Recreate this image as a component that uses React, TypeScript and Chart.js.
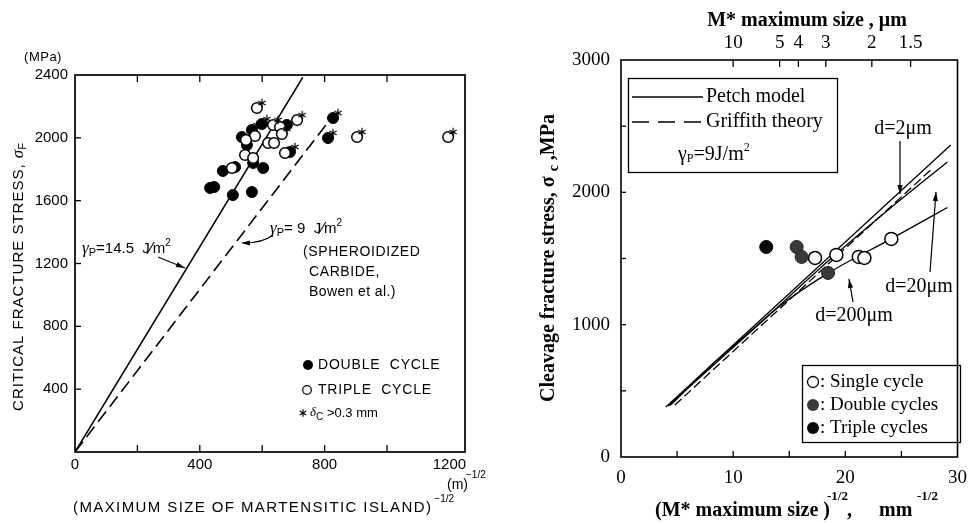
import React, { useEffect, useRef } from 'react';
import { Chart, registerables } from 'chart.js';

Chart.register(...registerables);

// ================= LEFT PANEL DATA =================
const leftXTickLabels = [0, 400, 800, 1200];
const leftXTickMarks = [200, 400, 600, 800, 1000];
const leftYTickLabels = [400, 800, 1200, 1600, 2000, 2400];
const leftYTickMarks = [400, 800, 1200, 1600, 2000];

const doubleCycle: [number, number][] = [
  [433, 1681], [446, 1687], [474, 1789], [513, 1814], [506, 1636], [567, 1655],
  [535, 2005], [551, 1954], [567, 2050], [599, 2088], [571, 1840], [603, 1808],
  [679, 2082], [689, 1910], [811, 1999], [827, 2126],
];
const tripleCycle: [number, number][] = [
  [583, 2190], [577, 2012], [548, 1986], [635, 2082], [657, 2069], [663, 2024],
  [619, 1967], [638, 1967], [712, 2113], [673, 1903], [545, 1891], [571, 1872],
  [503, 1808], [904, 2005], [1196, 2005],
];
const deltaCOver03: [number, number][] = [
  [583, 2190], [567, 2050], [599, 2088], [635, 2082], [663, 2024], [712, 2113],
  [689, 1910], [827, 2126], [811, 1999], [904, 2005], [1196, 2005],
];
const petchLeft: [number, number][] = [[0, 0], [730, 2385]];
const bowenLeft: [number, number][] = [[0, 0], [815, 2110]];

// ================= RIGHT PANEL DATA =================
const rightXTickLabels = [0, 10, 20, 30];
const rightXTickMarks = [5, 10, 15, 20, 25];
const rightYTickLabels = [0, 1000, 2000, 3000];
const rightYTickMarks = [500, 1000, 1500, 2000, 2500];
const topSizesUm = [10, 5, 4, 3, 2, 1.5];

const singleCycle: [number, number][] = [
  [17.3, 1504], [19.2, 1527], [21.2, 1512], [21.7, 1504], [24.1, 1648],
];
const doubleCycles: [number, number][] = [[15.66, 1587], [16.1, 1512], [18.46, 1391]];
const tripleCycles: [number, number][] = [[12.95, 1587]];
const petchD2: [number, number][] = [[4.0, 378], [29.4, 2358]];
const petchD20: [number, number][] = [[4.2, 385], [12, 980], [19, 1520], [24, 1880], [29.1, 2230]];
const petchD200: [number, number][] = [
  [4.4, 390], [8, 690], [11, 910], [14, 1130], [18.5, 1391], [24, 1645], [29.1, 1885],
];
const griffith: [number, number][] = [[4.8, 393], [27.8, 2184]];

// ================= HELPERS =================
const SANS = '"Liberation Sans", Arial, sans-serif';
const SERIF = '"Liberation Serif", "Times New Roman", serif';

const pts = (a: [number, number][]) => a.map(([x, y]) => ({ x, y }));

type Seg = { t: string; font: string; dx?: number; dy?: number; ls?: number };

function drawSegs(
  ctx: CanvasRenderingContext2D,
  x: number,
  y: number,
  segs: Seg[],
  align: 'left' | 'center' | 'right' = 'left'
) {
  ctx.save();
  ctx.textAlign = 'left';
  ctx.textBaseline = 'middle';
  ctx.fillStyle = '#000';
  const widths = segs.map((s) => {
    ctx.font = s.font;
    (ctx as any).letterSpacing = (s.ls ?? 0) + 'px';
    return ctx.measureText(s.t).width + (s.dx ?? 0);
  });
  const total = widths.reduce((a, b) => a + b, 0);
  let cx = align === 'left' ? x : align === 'center' ? x - total / 2 : x - total;
  segs.forEach((s, i) => {
    ctx.font = s.font;
    (ctx as any).letterSpacing = (s.ls ?? 0) + 'px';
    ctx.fillText(s.t, cx + (s.dx ?? 0), y + (s.dy ?? 0));
    cx += widths[i];
  });
  ctx.restore();
}

function seg(ctx: CanvasRenderingContext2D, x1: number, y1: number, x2: number, y2: number) {
  ctx.beginPath();
  ctx.moveTo(x1, y1);
  ctx.lineTo(x2, y2);
  ctx.stroke();
}

function arrowHead(ctx: CanvasRenderingContext2D, fx: number, fy: number, tx: number, ty: number, len = 9, hw = 2.6) {
  const ang = Math.atan2(ty - fy, tx - fx);
  const c = Math.cos(ang), s = Math.sin(ang);
  ctx.beginPath();
  ctx.moveTo(tx, ty);
  ctx.lineTo(tx - len * c + hw * s, ty - len * s - hw * c);
  ctx.lineTo(tx - len * c - hw * s, ty - len * s + hw * c);
  ctx.closePath();
  ctx.fill();
}

function arrow(ctx: CanvasRenderingContext2D, x1: number, y1: number, x2: number, y2: number) {
  seg(ctx, x1, y1, x2, y2);
  arrowHead(ctx, x1, y1, x2, y2);
}

function asterisk(ctx: CanvasRenderingContext2D, cx: number, cy: number, r: number) {
  for (let i = 0; i < 3; i++) {
    const a = Math.PI / 2 + (i * Math.PI) / 3;
    seg(ctx, cx - r * Math.cos(a), cy - r * Math.sin(a), cx + r * Math.cos(a), cy + r * Math.sin(a));
  }
}

function makeStarImage(): HTMLCanvasElement {
  const c = document.createElement('canvas');
  c.width = 30;
  c.height = 30;
  const g = c.getContext('2d')!;
  g.strokeStyle = '#000';
  g.lineWidth = 1.2;
  asterisk(g, 20, 10, 4.2);
  return c;
}

// ================= LEFT DECOR PLUGIN =================
const leftDecor = {
  id: 'leftDecor',
  afterDraw(chart: any) {
    const { ctx, chartArea: a, scales } = chart;
    const xs = scales.x, ys = scales.y;
    ctx.save();
    ctx.strokeStyle = '#000';
    ctx.fillStyle = '#000';
    ctx.lineWidth = 1.7;
    ctx.strokeRect(a.left, a.top, a.right - a.left, a.bottom - a.top);
    ctx.lineWidth = 1.3;
    leftXTickMarks.forEach((v) => {
      const px = xs.getPixelForValue(v);
      seg(ctx, px, a.bottom, px, a.bottom - 7);
      seg(ctx, px, a.top, px, a.top + 7);
    });
    leftYTickMarks.forEach((v) => {
      const py = ys.getPixelForValue(v);
      seg(ctx, a.left, py, a.left + 6, py);
    });

    // (MPa)
    drawSegs(ctx, 43, 57, [{ t: '(MPa)', font: `13px ${SANS}`, ls: 0.5 }], 'center');

    // Y title (rotated)
    ctx.save();
    ctx.translate(19, 277);
    ctx.rotate(-Math.PI / 2);
    drawSegs(ctx, 0, 0, [
      { t: 'CRITICAL FRACTURE STRESS, ', font: `15px ${SANS}`, ls: 1 },
      { t: 'σ', font: `italic 17px ${SERIF}` },
      { t: 'F', font: `11px ${SANS}`, dy: 4 },
    ], 'center');
    ctx.restore();

    // X title
    drawSegs(ctx, 73, 508, [
      { t: '(MAXIMUM SIZE OF MARTENSITIC ISLAND)', font: `15px ${SANS}`, ls: 1.4 },
      { t: '−1/2', font: `10px ${SANS}`, dy: -9, dx: 2 },
    ]);
    drawSegs(ctx, 447, 485, [{ t: '(m)', font: `14px ${SANS}` }]);
    drawSegs(ctx, 466, 475, [{ t: '−1/2', font: `10px ${SANS}` }]);

    // γP = 14.5 annotation
    drawSegs(ctx, 82, 249, [
      { t: 'γ', font: `italic 17px ${SERIF}` },
      { t: 'P', font: `11px ${SANS}`, dy: 4 },
      { t: '=14.5  J', font: `15px ${SANS}` },
      { t: '⁄', font: `17px ${SANS}` },
      { t: 'm', font: `15px ${SANS}` },
      { t: '2', font: `10px ${SANS}`, dy: -6 },
    ]);
    ctx.lineWidth = 1.1;
    arrow(ctx, 158, 257, 185, 268);

    // γP = 9 annotation
    drawSegs(ctx, 270, 229, [
      { t: 'γ', font: `italic 17px ${SERIF}` },
      { t: 'P', font: `11px ${SANS}`, dy: 4 },
      { t: '= 9  J', font: `15px ${SANS}` },
      { t: '⁄', font: `17px ${SANS}` },
      { t: 'm', font: `15px ${SANS}` },
      { t: '2', font: `10px ${SANS}`, dy: -6 },
    ]);
    ctx.beginPath();
    ctx.moveTo(273, 235);
    ctx.quadraticCurveTo(263, 243, 243, 243);
    ctx.stroke();
    arrowHead(ctx, 256, 243, 241, 243);

    drawSegs(ctx, 303, 252, [{ t: '(SPHEROIDIZED', font: `14px ${SANS}`, ls: 0.6 }]);
    drawSegs(ctx, 309, 272, [{ t: 'CARBIDE,', font: `14px ${SANS}`, ls: 0.6 }]);
    drawSegs(ctx, 309, 292, [{ t: 'Bowen et al.)', font: `14px ${SANS}`, ls: 0.4 }]);

    // Legend
    ctx.beginPath();
    ctx.arc(308, 365, 5, 0, Math.PI * 2);
    ctx.fill();
    drawSegs(ctx, 318, 365, [{ t: 'DOUBLE  CYCLE', font: `14px ${SANS}`, ls: 0.8 }]);
    ctx.lineWidth = 1.2;
    ctx.beginPath();
    ctx.arc(307, 390, 4.3, 0, Math.PI * 2);
    ctx.stroke();
    drawSegs(ctx, 318, 390, [{ t: 'TRIPLE  CYCLE', font: `14px ${SANS}`, ls: 0.8 }]);
    asterisk(ctx, 303, 413, 3.8);
    drawSegs(ctx, 310, 413, [
      { t: 'δ', font: `italic 13px ${SERIF}` },
      { t: 'C', font: `10px ${SANS}`, dy: 4 },
      { t: ' >0.3 mm', font: `13px ${SANS}` },
    ]);
    ctx.restore();
  },
};

// ================= RIGHT DECOR PLUGIN =================
const OX = 490;
const rightDecor = {
  id: 'rightDecor',
  afterDraw(chart: any) {
    const { ctx, chartArea: a, scales } = chart;
    const xs = scales.x, ys = scales.y, x2 = scales.x2;
    ctx.save();
    ctx.strokeStyle = '#000';
    ctx.fillStyle = '#000';
    ctx.lineWidth = 1.6;
    ctx.strokeRect(a.left, a.top, a.right - a.left, a.bottom - a.top);
    ctx.lineWidth = 1.3;
    rightXTickMarks.forEach((v) => {
      const px = xs.getPixelForValue(v);
      seg(ctx, px, a.bottom, px, a.bottom - 6);
    });
    rightYTickMarks.forEach((v) => {
      const py = ys.getPixelForValue(v);
      seg(ctx, a.left, py, a.left + 5, py);
    });
    topSizesUm.forEach((s) => {
      const px = x2.getPixelForValue(1 / Math.sqrt(s / 1000));
      seg(ctx, px, a.top, px, a.top + 7);
    });

    ctx.translate(-OX, 0);
    const F = (sz: number, b = false) => `${b ? 'bold ' : ''}${sz}px ${SERIF}`;

    // Top title
    drawSegs(ctx, 807, 21, [{ t: 'M* maximum size , μm', font: F(20, true) }], 'center');

    // Y title
    ctx.save();
    ctx.translate(549, 258);
    ctx.rotate(-Math.PI / 2);
    drawSegs(ctx, 0, 0, [
      { t: 'Cleavage fracture stress, σ ', font: F(20, true) },
      { t: 'c', font: F(14, true), dy: 5 },
      { t: ' ,MPa', font: F(20, true) },
    ], 'center');
    ctx.restore();

    // X title
    drawSegs(ctx, 655, 511, [{ t: '(M* maximum size )', font: F(20, true) }]);
    drawSegs(ctx, 827, 497, [{ t: '-1/2', font: F(13, true) }]);
    drawSegs(ctx, 847, 511, [{ t: ',', font: F(20, true) }]);
    drawSegs(ctx, 879, 511, [{ t: 'mm', font: F(20, true) }]);
    drawSegs(ctx, 917, 497, [{ t: '-1/2', font: F(13, true) }]);

    // Legend box 1
    ctx.lineWidth = 1.3;
    ctx.strokeRect(628.5, 78.5, 209, 94);
    ctx.lineWidth = 1.4;
    seg(ctx, 632, 97, 703, 97);
    ctx.setLineDash([17, 9]);
    seg(ctx, 632, 122, 703, 122);
    ctx.setLineDash([]);
    drawSegs(ctx, 706, 97, [{ t: 'Petch model', font: F(20) }]);
    drawSegs(ctx, 706, 122, [{ t: 'Griffith theory', font: F(20) }]);
    drawSegs(ctx, 678, 155, [
      { t: 'γ', font: F(20) },
      { t: 'P', font: F(12), dy: 4 },
      { t: '=9J/m', font: F(20) },
      { t: '2', font: F(12), dy: -7 },
    ]);

    // Legend box 2
    ctx.lineWidth = 1.3;
    ctx.strokeRect(802.5, 365.5, 158, 77);
    ctx.fillStyle = '#fff';
    ctx.beginPath();
    ctx.arc(813, 382, 5.5, 0, Math.PI * 2);
    ctx.fill();
    ctx.stroke();
    ctx.fillStyle = '#3a3a3a';
    ctx.beginPath();
    ctx.arc(813, 405, 6, 0, Math.PI * 2);
    ctx.fill();
    ctx.fillStyle = '#0a0a0a';
    ctx.beginPath();
    ctx.arc(813, 428, 6, 0, Math.PI * 2);
    ctx.fill();
    ctx.fillStyle = '#000';
    drawSegs(ctx, 820, 382, [{ t: ': Single cycle', font: F(19) }]);
    drawSegs(ctx, 820, 405, [{ t: ': Double cycles', font: F(19) }]);
    drawSegs(ctx, 820, 428, [{ t: ': Triple cycles', font: F(19) }]);

    // d annotations
    drawSegs(ctx, 903, 129, [{ t: 'd=2μm', font: F(20) }], 'center');
    drawSegs(ctx, 919, 287, [{ t: 'd=20μm', font: F(20) }], 'center');
    drawSegs(ctx, 854, 316, [{ t: 'd=200μm', font: F(20) }], 'center');
    ctx.lineWidth = 1.2;
    arrow(ctx, 900, 141, 900, 194);
    arrow(ctx, 930, 272, 936, 192);
    arrow(ctx, 853, 302, 849, 279);

    ctx.restore();
  },
};

const plainTick = (v: any) => String(v);

// ================= COMPONENT =================
export default function App() {
  const leftRef = useRef<HTMLCanvasElement>(null);
  const rightRef = useRef<HTMLCanvasElement>(null);

  useEffect(() => {
    const starImg = makeStarImage();
    const hidden = { display: false };
    const noGrid = { display: false, drawTicks: false, tickLength: 0 };
    const leftChart = new Chart(leftRef.current!, {
      type: 'scatter',
      data: {
        datasets: [
          {
            label: 'δC > 0.3 mm',
            data: pts(deltaCOver03),
            pointStyle: starImg as any,
            pointRadius: 6,
            backgroundColor: '#000',
            borderColor: '#000',
          },
          {
            label: 'TRIPLE CYCLE',
            data: pts(tripleCycle),
            pointRadius: 5.3,
            backgroundColor: '#fff',
            borderColor: '#000',
            borderWidth: 1.5,
          },
          {
            label: 'DOUBLE CYCLE',
            data: pts(doubleCycle),
            pointRadius: 5.5,
            backgroundColor: '#000',
            borderColor: '#000',
            borderWidth: 1,
          },
          {
            label: 'γP=14.5 J/m²',
            data: pts(petchLeft),
            showLine: true,
            borderColor: '#000',
            borderWidth: 1.6,
            pointRadius: 0,
          },
          {
            label: 'γP=9 J/m²',
            data: pts(bowenLeft),
            showLine: true,
            borderColor: '#000',
            borderWidth: 1.6,
            borderDash: [13, 6],
            pointRadius: 0,
          },
        ],
      },
      options: {
        responsive: false,
        animation: false,
        devicePixelRatio: 1,
        layout: { padding: { top: 75, right: 25, left: 0, bottom: 0 } },
        plugins: { legend: hidden, tooltip: { enabled: false } },
        scales: {
          x: {
            type: 'linear',
            min: 0,
            max: 1250,
            grid: noGrid,
            border: { display: false },
            afterBuildTicks: (s: any) => { s.ticks = leftXTickLabels.map((v) => ({ value: v })); },
            afterFit: (s: any) => { s.height = 71; },
            ticks: { autoSkip: false, maxRotation: 0, padding: 4, color: '#000', font: { family: SANS, size: 15 }, callback: plainTick },
          },
          y: {
            type: 'linear',
            min: 0,
            max: 2400,
            grid: noGrid,
            border: { display: false },
            afterBuildTicks: (s: any) => { s.ticks = leftYTickLabels.map((v) => ({ value: v })); },
            afterFit: (s: any) => { s.width = 75; },
            ticks: { autoSkip: false, padding: 7, color: '#000', font: { family: SANS, size: 15 }, callback: plainTick },
          },
        },
      } as any,
      plugins: [leftDecor],
    });

    const rightChart = new Chart(rightRef.current!, {
      type: 'scatter',
      data: {
        datasets: [
          {
            label: 'Single cycle',
            data: pts(singleCycle),
            pointRadius: 6.5,
            backgroundColor: '#fff',
            borderColor: '#000',
            borderWidth: 1.5,
          },
          {
            label: 'Double cycles',
            data: pts(doubleCycles),
            pointRadius: 6.5,
            backgroundColor: '#3a3a3a',
            borderColor: '#222',
            borderWidth: 1,
          },
          {
            label: 'Triple cycles',
            data: pts(tripleCycles),
            pointRadius: 6.5,
            backgroundColor: '#0a0a0a',
            borderColor: '#000',
            borderWidth: 1,
          },
          {
            label: 'Petch d=2μm',
            data: pts(petchD2),
            showLine: true,
            borderColor: '#000',
            borderWidth: 1.3,
            pointRadius: 0,
          },
          {
            label: 'Petch d=20μm',
            data: pts(petchD20),
            showLine: true,
            borderColor: '#000',
            borderWidth: 1.3,
            pointRadius: 0,
            cubicInterpolationMode: 'monotone',
          },
          {
            label: 'Petch d=200μm',
            data: pts(petchD200),
            showLine: true,
            borderColor: '#000',
            borderWidth: 1.3,
            pointRadius: 0,
            cubicInterpolationMode: 'monotone',
          },
          {
            label: 'Griffith theory',
            data: pts(griffith),
            showLine: true,
            borderColor: '#000',
            borderWidth: 1.3,
            borderDash: [9, 4],
            pointRadius: 0,
          },
        ],
      },
      options: {
        responsive: false,
        animation: false,
        devicePixelRatio: 1,
        layout: { padding: { top: 0, right: 12, left: 0, bottom: 0 } },
        plugins: { legend: hidden, tooltip: { enabled: false } },
        scales: {
          x: {
            type: 'linear',
            position: 'bottom',
            min: 0,
            max: 30,
            grid: noGrid,
            border: { display: false },
            afterBuildTicks: (s: any) => { s.ticks = rightXTickLabels.map((v) => ({ value: v })); },
            afterFit: (s: any) => { s.height = 66; },
            ticks: { autoSkip: false, maxRotation: 0, padding: 10, color: '#000', font: { family: SERIF, size: 19 }, callback: plainTick },
          },
          x2: {
            type: 'linear',
            position: 'top',
            min: 0,
            max: 30,
            grid: noGrid,
            border: { display: false },
            afterBuildTicks: (s: any) => { s.ticks = topSizesUm.map((v) => ({ value: 1 / Math.sqrt(v / 1000) })); },
            afterFit: (s: any) => { s.height = 60; },
            ticks: {
              autoSkip: false,
              maxRotation: 0,
              padding: 6,
              color: '#000',
              font: { family: SERIF, size: 19 },
              callback: (_v: any, i: number) => String(topSizesUm[i]),
            },
          },
          y: {
            type: 'linear',
            min: 0,
            max: 3000,
            grid: noGrid,
            border: { display: false },
            afterBuildTicks: (s: any) => { s.ticks = rightYTickLabels.map((v) => ({ value: v })); },
            afterFit: (s: any) => { s.width = 131; },
            ticks: { autoSkip: false, padding: 11, color: '#000', font: { family: SERIF, size: 19 }, callback: plainTick },
          },
        },
      } as any,
      plugins: [rightDecor],
    });

    return () => {
      leftChart.destroy();
      rightChart.destroy();
    };
  }, []);

  return (
    <div style={{ position: 'absolute', left: 0, top: 0, width: 977, height: 523, background: '#fff' }}>
      <canvas
        ref={leftRef}
        width={490}
        height={523}
        style={{ position: 'absolute', left: 0, top: 0, width: 490, height: 523 }}
      />
      <canvas
        ref={rightRef}
        width={487}
        height={523}
        style={{ position: 'absolute', left: 490, top: 0, width: 487, height: 523 }}
      />
    </div>
  );
}
